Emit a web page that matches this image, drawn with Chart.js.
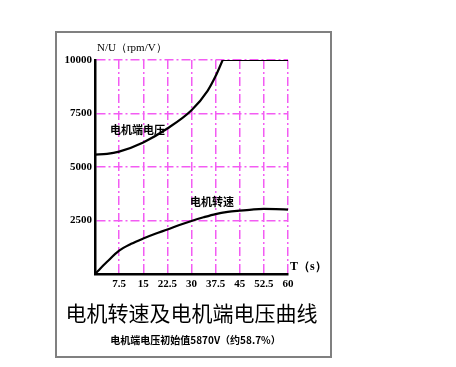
<!DOCTYPE html>
<html>
<head>
<meta charset="utf-8">
<script src="https://cdn.jsdelivr.net/npm/chart.js@4"></script>
<style>
  html, body { margin: 0; padding: 0; background: #fff; }
  #wrap { position: relative; width: 456px; height: 367px; }
  #frame {
    position: absolute; left: 55px; top: 31px; width: 273px; height: 323px;
    border: 2px solid #808080; pointer-events: none;
  }
</style>
</head>
<body>
<div id="wrap">
  <canvas id="chart" width="456" height="367"></canvas>
  <div id="frame"></div>
</div>
<script>
// --- Data ---
const xTicks = [0, 7.5, 15, 22.5, 30, 37.5, 45, 52.5, 60];
const yTicks = [0, 2500, 5000, 7500, 10000];

// motor terminal voltage (scaled, reaches 10000 then holds)
const voltageT = [0, 3.75, 7.5, 15, 22.5, 30, 35, 37.5, 39.7, 45, 52.5, 60];
const voltage = [5580, 5610, 5720, 6150, 6800, 7650, 8560, 9250, 10000, 10000, 10000, 10000];

// motor speed
const speedT = [0, 3.75, 7.5, 11.25, 15, 18.75, 22.5, 26.25, 30, 33.75, 37.5, 41.25, 45, 48.75, 52.5, 56.25, 60];
const speed = [0, 570, 1090, 1410, 1660, 1880, 2080, 2290, 2480, 2650, 2800, 2900, 2960, 3010, 3040, 3030, 3010];

const titleText = "电机转速及电机端电压曲线";
const subtitleText = "电机端电压初始值5870V（约58.7%）";
const yTitle = "N/U（rpm/V）";
const xTitle = "T（s）";
const labels = [
  { text: "电机端电压", t: 4.7, v: 6730 },
  { text: "电机转速", t: 29.5, v: 3360 },
];

const pink = "#f35cf3";
const dash = [9, 3, 2, 3];
const tickFont = { family: "'Liberation Serif', 'DejaVu Serif', serif", size: 11, weight: "bold" };

function toPoints(ts, vs) {
  return ts.map((t, i) => ({ x: t, y: vs[i] }));
}

// split the voltage where it hits the ceiling so the corner stays sharp
const peak = voltage.indexOf(10000);
const voltRise = toPoints(voltageT.slice(0, peak + 1), voltage.slice(0, peak + 1));
const voltFlat = toPoints(voltageT.slice(peak), voltage.slice(peak));

const lineStyle = {
  borderColor: "#000",
  borderWidth: 2.2,
  pointRadius: 0,
  fill: false,
};

const textPlugin = {
  id: "texts",
  afterDraw(chart) {
    const { ctx, chartArea, scales } = chart;
    const cx = (chartArea.left + chartArea.right) / 2;
    ctx.save();
    ctx.fillStyle = "#000";
    ctx.textBaseline = "middle";

    // axis titles
    ctx.font = "11px 'Liberation Serif', serif";
    ctx.textAlign = "left";
    ctx.fillText(yTitle, chartArea.left + 2, chartArea.top - 12);
    ctx.font = "bold 12px 'Liberation Serif', serif";
    ctx.fillText(xTitle, chartArea.right + 2, chartArea.bottom - 7);

    // curve labels
    ctx.font = "bold 11px 'Noto Sans CJK SC', sans-serif";
    labels.forEach((l) => {
      ctx.fillText(l.text, scales.x.getPixelForValue(l.t), scales.y.getPixelForValue(l.v));
    });

    // title + note underneath
    ctx.textAlign = "center";
    ctx.font = "21px 'Noto Sans CJK SC', sans-serif";
    ctx.fillText(titleText, cx, 313);
    ctx.font = "bold 10px 'Noto Sans CJK SC', sans-serif";
    ctx.fillText(subtitleText, cx + 4, 340);
    ctx.restore();
  },
};

new Chart(document.getElementById("chart"), {
  type: "line",
  data: {
    datasets: [
      { label: "电机端电压", data: voltRise, ...lineStyle, cubicInterpolationMode: "monotone" },
      { label: "电机端电压", data: voltFlat, ...lineStyle, tension: 0 },
      { label: "电机转速", data: toPoints(speedT, speed), ...lineStyle, cubicInterpolationMode: "monotone" },
    ],
  },
  options: {
    responsive: false,
    animation: false,
    events: [],
    layout: { padding: { left: 0, right: 168, top: 60, bottom: 73 } },
    plugins: {
      legend: { display: false },
      tooltip: { enabled: false },
    },
    scales: {
      x: {
        type: "linear",
        min: 0,
        max: 60,
        afterBuildTicks: (s) => { s.ticks = xTicks.map((v) => ({ value: v })); },
        afterFit: (s) => { s.height = 20; },
        ticks: {
          color: "#000",
          font: tickFont,
          padding: 4,
          maxRotation: 0,
          autoSkip: false,
          callback: (v) => (v === 0 ? "" : String(v)),
        },
        grid: {
          color: (c) => (c.tick && c.tick.value === 0 ? "transparent" : pink),
          lineWidth: 1.5,
          drawTicks: false,
        },
        border: { color: "#000", width: 2.5, dash: dash },
      },
      y: {
        min: 0,
        max: 10000,
        afterBuildTicks: (s) => { s.ticks = yTicks.map((v) => ({ value: v })); },
        afterFit: (s) => { s.width = 95; },
        ticks: {
          color: "#000",
          font: tickFont,
          padding: 3,
          callback: (v) => (v === 0 ? "" : String(v)),
        },
        grid: {
          color: (c) => (c.tick && c.tick.value === 0 ? "transparent" : pink),
          lineWidth: 1.5,
          drawTicks: false,
        },
        border: { color: "#000", width: 2.5, dash: dash },
      },
    },
  },
  plugins: [textPlugin],
});
</script>
</body>
</html>
